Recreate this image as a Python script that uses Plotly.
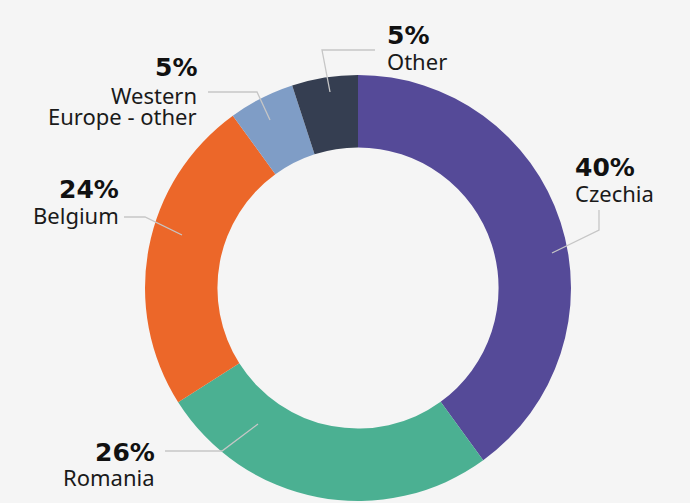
import plotly.graph_objects as go

# Data
countries = ['Czechia', 'Romania', 'Belgium', 'Western Europe - other', 'Other']
name_lines = [['Czechia'], ['Romania'], ['Belgium'], ['Western', 'Europe - other'], ['Other']]
shares = [40, 26, 24, 5, 5]
colors = ['#554a98', '#4bb092', '#ec6729', '#7f9dc6', '#353e51']

W, H = 690, 503


def px(x, y):
    # pixel -> paper coords
    return x / W, 1 - y / H


# label placement: (x, y of percent, y of first name line, side)
label_pos = [
    (573, 167, 193, 'left'),
    (157, 452, 477, 'right'),
    (121, 190, 215, 'right'),
    (199, 68, 95, 'right'),
    (385, 35, 61, 'left'),
]
line_gap = 21

# leader lines (pixel points)
leaders = [
    [(552, 253), (599, 230), (599, 210)],
    [(258, 424), (222, 451), (165, 451)],
    [(182, 235), (145, 217), (124, 217)],
    [(270, 120), (257, 92), (208, 92)],
    [(330, 92), (322, 50), (375, 50)],
]

cx, cy, r = 358, 288, 213
x0, y0 = px(cx - r, cy + r)
x1, y1 = px(cx + r, cy - r)

fig = go.Figure(go.Pie(
    labels=countries, values=shares, sort=False, direction='clockwise',
    rotation=0, hole=0.66, textinfo='none', hoverinfo='label+percent',
    marker=dict(colors=colors, line=dict(width=0)),
    domain=dict(x=[x0, x1], y=[y0, y1]), showlegend=False,
))

annotations = []
for lines, val, (lx, ypct, yname, side) in zip(name_lines, shares, label_pos):
    ax, ay = px(lx, ypct)
    annotations.append(dict(
        x=ax, y=ay, xref='paper', yref='paper', xanchor=side, yanchor='middle',
        text='<b>%d%%</b>' % val, showarrow=False,
        font=dict(family='DejaVu Sans', size=25, color='#111111')))
    for i, line in enumerate(lines):
        nx, ny = px(lx, yname + i * line_gap)
        annotations.append(dict(
            x=nx, y=ny, xref='paper', yref='paper', xanchor=side, yanchor='middle',
            text=line, showarrow=False,
            font=dict(family='Noto Sans', size=22, color='#1a1a1a')))

shapes = []
for pts in leaders:
    path = 'M ' + ' L '.join('%f,%f' % px(x, y) for x, y in pts)
    shapes.append(dict(type='path', path=path, xref='paper', yref='paper',
                       line=dict(color='#c6c6c6', width=1.3)))

fig.update_layout(
    width=W, height=H, margin=dict(l=0, r=0, t=0, b=0),
    paper_bgcolor='#f5f5f5', plot_bgcolor='#f5f5f5',
    annotations=annotations, shapes=shapes,
)

fig.write_html('out.html', config={'displayModeBar': False},
               post_script="document.body.style.margin='0';"
                           "document.body.style.background='#f5f5f5';")
